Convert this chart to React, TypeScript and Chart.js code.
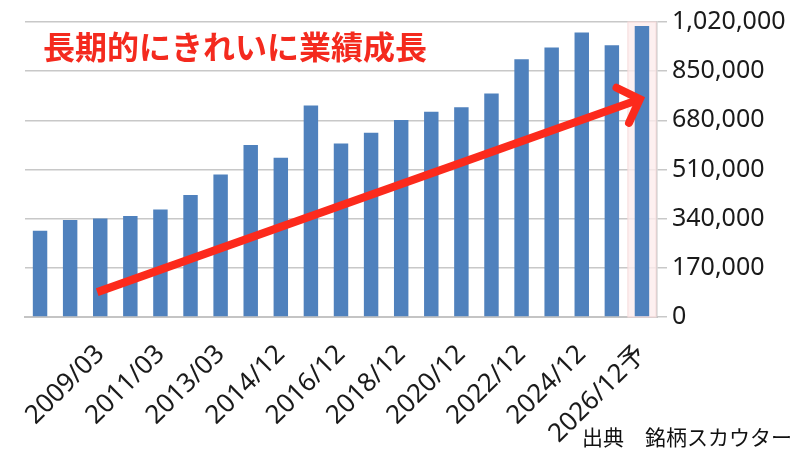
import React, { useEffect, useRef } from 'react';
import { Chart, registerables } from 'chart.js';

Chart.register(...registerables);

// fiscal periods (the company moved from March to December year-end in 2013)
const periods = [
  '2007/03', '2008/03', '2009/03', '2010/03', '2011/03', '2012/03', '2013/03',
  '2013/12', '2014/12', '2015/12', '2016/12', '2017/12', '2018/12', '2019/12',
  '2020/12', '2021/12', '2022/12', '2023/12', '2024/12', '2025/12', '2026/12予',
];
const sales = [
  298000, 335000, 341000, 349000, 372000, 422000, 493000,
  595000, 551000, 731000, 600000, 637000, 681000, 710000,
  725000, 773000, 891000, 932000, 984000, 940000, 1006000,
];
const yTicks = [0, 170000, 340000, 510000, 680000, 850000, 1020000];
// red trend arrow, in data space: [category index, value]
const arrowFrom = [1.9, 86000];
const arrowTo = [19.93, 753000];

const TITLE = '長期的にきれいに業績成長';
const SOURCE = '出典\u3000銘柄スカウター';

const App: React.FC = () => {
  const canvasRef = useRef<HTMLCanvasElement>(null);

  useEffect(() => {
    if (!canvasRef.current) return;
    const ctx = canvasRef.current.getContext('2d');
    if (!ctx) return;

    // light pink band behind the forecast period
    const forecastBand = {
      id: 'forecastBand',
      beforeDatasetsDraw(chart: any) {
        const x = chart.scales.x;
        const area = chart.chartArea;
        const last = periods.length - 1;
        const w = x.width / periods.length;
        const cx = x.getPixelForValue(last);
        const c = chart.ctx;
        c.save();
        c.fillStyle = 'rgba(253, 236, 236, 0.8)';
        c.fillRect(cx - w / 2 + 1, area.top, w - 2, area.bottom - area.top);
        c.strokeStyle = '#f6dada';
        c.lineWidth = 1;
        c.strokeRect(cx - w / 2 + 1, area.top, w - 2, area.bottom - area.top);
        c.restore();
      },
    };

    const trendArrow = {
      id: 'trendArrow',
      afterDatasetsDraw(chart: any) {
        const { x, y } = chart.scales;
        const x0 = x.getPixelForValue(arrowFrom[0]);
        const y0 = y.getPixelForValue(arrowFrom[1]);
        const x1 = x.getPixelForValue(arrowTo[0]);
        const y1 = y.getPixelForValue(arrowTo[1]);
        const ang = Math.atan2(y1 - y0, x1 - x0);
        const head = 26;
        const c = chart.ctx;
        c.save();
        c.strokeStyle = '#fc2a1c';
        c.lineWidth = 8;
        c.lineCap = 'butt';
        c.beginPath();
        c.moveTo(x0, y0);
        c.lineTo(x1 - 3 * Math.cos(ang), y1 - 3 * Math.sin(ang));
        c.stroke();
        c.lineCap = 'round';
        c.lineJoin = 'miter';
        c.beginPath();
        c.moveTo(x1 - head * Math.cos(ang - 0.8), y1 - head * Math.sin(ang - 0.8));
        c.lineTo(x1, y1);
        c.lineTo(x1 - head * Math.cos(ang + 0.8), y1 - head * Math.sin(ang + 0.8));
        c.stroke();
        c.restore();
      },
    };

    const chart = new Chart(ctx, {
      type: 'bar',
      data: {
        labels: periods,
        datasets: [{
          label: '売上高',
          data: sales,
          backgroundColor: '#4f81bd',
          barPercentage: 0.96,
          categoryPercentage: 0.5,
        }],
      },
      options: {
        responsive: true,
        maintainAspectRatio: false,
        animation: false,
        layout: { padding: { left: 25, top: 22, right: 0, bottom: 0 } },
        plugins: {
          legend: { display: false },
          tooltip: { enabled: false },
        },
        scales: {
          x: {
            grid: { display: false },
            border: { color: '#c4c4c4', width: 2 },
            ticks: {
              autoSkip: false,
              maxRotation: 45,
              minRotation: 45,
              padding: 14,
              color: '#1a1a1a',
              font: { family: '"Noto Sans", "Noto Sans CJK JP", sans-serif', size: 26 },
              callback: (_v: any, i: number) => (i > 0 && i % 2 === 0 ? periods[i] : ''),
            },
            afterFit: (scale: any) => { scale.height = 133; },
          },
          y: {
            position: 'right',
            min: 0,
            max: yTicks[yTicks.length - 1],
            afterBuildTicks: (scale: any) => {
              scale.ticks = yTicks.map((v) => ({ value: v }));
            },
            grid: { color: '#c8c8c8', lineWidth: 1.5, tickLength: 10 },
            border: { color: '#c8c8c8', width: 1.5 },
            ticks: {
              padding: 5,
              color: '#1a1a1a',
              font: { family: '"Noto Sans", sans-serif', size: 25 },
              callback: (v: any) => Number(v).toLocaleString('en-US'),
            },
            afterFit: (scale: any) => { scale.width = 143; },
          },
        },
      },
      plugins: [forecastBand, trendArrow],
    });

    return () => chart.destroy();
  }, []);

  return (
    <div style={{ position: 'absolute', left: 0, top: 0, width: 800, height: 450, background: '#fff' }}>
      <canvas ref={canvasRef} />
      <div
        style={{
          position: 'absolute', left: 43, top: 29, fontSize: 32, lineHeight: '32px',
          fontWeight: 'bold', color: '#f42a1e', whiteSpace: 'nowrap',
          fontFamily: '"Noto Sans CJK JP", sans-serif',
        }}
      >
        {TITLE}
      </div>
      <div
        style={{
          position: 'absolute', left: 582, top: 424, fontSize: 21, lineHeight: '24px',
          color: '#111', whiteSpace: 'nowrap', fontFamily: '"Noto Sans CJK JP", sans-serif',
        }}
      >
        {SOURCE}
      </div>
    </div>
  );
};

export default App;
